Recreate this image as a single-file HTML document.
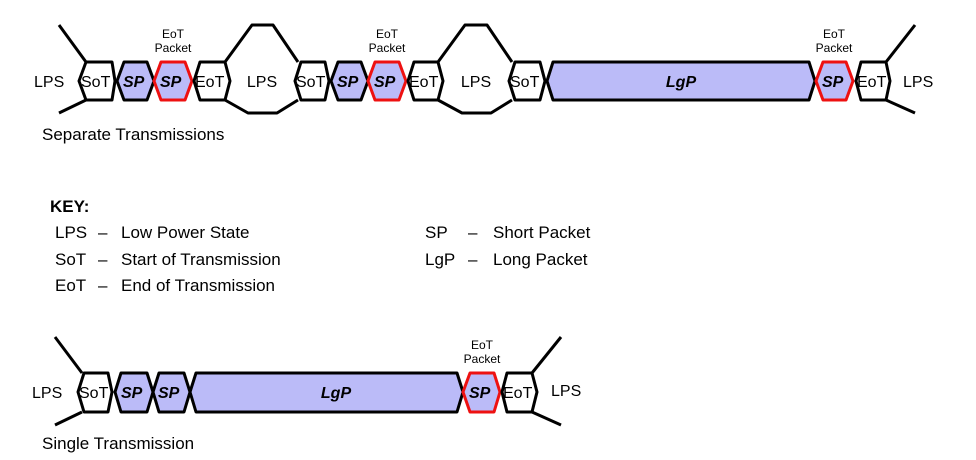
<!DOCTYPE html>
<html><head><meta charset="utf-8"><style>
html,body{margin:0;padding:0;background:#fff;}
svg{display:block;}
text{font-family:"Liberation Sans",Arial,sans-serif;}
</style></head><body>
<svg width="976" height="460" viewBox="0 0 976 460" xmlns="http://www.w3.org/2000/svg">
<defs>
<style>
.h{fill:#fff;stroke:#000;stroke-width:3;stroke-linejoin:round}
.b{fill:#bbbbf8;stroke:#000;stroke-width:3;stroke-linejoin:round}
.r{fill:#bbbbf8;stroke:#ee1111;stroke-width:3;stroke-linejoin:round}
.l{fill:none;stroke:#000;stroke-width:3;stroke-linejoin:round}
.t{font-size:16px;fill:#000}
.k{font-size:17px;fill:#000}
.sp{font-size:16px;font-weight:bold;font-style:italic;fill:#000}
.s{font-size:12px;fill:#000}
</style>
</defs>
<polyline class="l" points="59,25 86,62"/>
<polyline class="l" points="86,100 59,113"/>
<text class="t" x="34" y="87">LPS</text>
<polygon class="h" points="79,81 86,62 112,62 115,81 112,100 86,100"/>
<text class="t" x="81" y="87">SoT</text>
<polygon class="b" points="117,81 124,62 147,62 154,81 147,100 124,100"/>
<text class="sp" x="123" y="87">SP</text>
<polygon class="r" points="154,81 161,62 185,62 192,81 185,100 161,100"/>
<text class="sp" x="160" y="87">SP</text>
<text class="s" x="173" y="38" text-anchor="middle">EoT</text>
<text class="s" x="173" y="52" text-anchor="middle">Packet</text>
<polygon class="h" points="194,81 200,62 225,62 230,81 225,100 200,100"/>
<text class="t" x="195" y="87">EoT</text>
<polyline class="l" points="225,62 252,25 273,25 298,62"/>
<polyline class="l" points="225,100 248,113 277,113 298,100"/>
<text class="t" x="262" y="87" text-anchor="middle">LPS</text>
<polygon class="h" points="295,81 301,62 325,62 329,81 325,100 301,100"/>
<text class="t" x="296" y="87">SoT</text>
<polygon class="b" points="331,81 338,62 361,62 368,81 361,100 338,100"/>
<text class="sp" x="337" y="87">SP</text>
<polygon class="r" points="368,81 375,62 399,62 406,81 399,100 375,100"/>
<text class="sp" x="374" y="87">SP</text>
<text class="s" x="387" y="38" text-anchor="middle">EoT</text>
<text class="s" x="387" y="52" text-anchor="middle">Packet</text>
<polygon class="h" points="408,81 414,62 438,62 443,81 438,100 414,100"/>
<text class="t" x="409" y="87">EoT</text>
<polyline class="l" points="438,62 465,25 487,25 512,62"/>
<polyline class="l" points="438,100 462,113 491,113 512,100"/>
<text class="t" x="476" y="87" text-anchor="middle">LPS</text>
<polygon class="h" points="509,81 515,62 540,62 545,81 540,100 515,100"/>
<text class="t" x="510" y="87">SoT</text>
<polygon class="b" points="547,81 553,62 809,62 815,81 809,100 553,100"/>
<text class="sp" x="681" y="87" text-anchor="middle">LgP</text>
<polygon class="r" points="816,81 823,62 846,62 853,81 846,100 823,100"/>
<text class="sp" x="822" y="87">SP</text>
<text class="s" x="834" y="38" text-anchor="middle">EoT</text>
<text class="s" x="834" y="52" text-anchor="middle">Packet</text>
<polygon class="h" points="856,81 861,62 886,62 890,81 886,100 861,100"/>
<text class="t" x="857" y="87">EoT</text>
<polyline class="l" points="886,62 915,25"/>
<polyline class="l" points="886,100 915,113"/>
<text class="t" x="903" y="87">LPS</text>
<text class="k" x="42" y="140">Separate Transmissions</text>

<text class="k" x="50" y="212" font-weight="bold">KEY:</text>
<text class="k" x="55" y="238">LPS</text><text class="k" x="98" y="238">–</text><text class="k" x="121" y="238">Low Power State</text>
<text class="k" x="55" y="265">SoT</text><text class="k" x="98" y="265">–</text><text class="k" x="121" y="265">Start of Transmission</text>
<text class="k" x="55" y="291">EoT</text><text class="k" x="98" y="291">–</text><text class="k" x="121" y="291">End of Transmission</text>
<text class="k" x="425" y="238">SP</text><text class="k" x="468" y="238">–</text><text class="k" x="493" y="238">Short Packet</text>
<text class="k" x="425" y="265">LgP</text><text class="k" x="468" y="265">–</text><text class="k" x="493" y="265">Long Packet</text>

<polyline class="l" points="55,337 82,373"/>
<polyline class="l" points="82,412 55,425"/>
<text class="t" x="32" y="398">LPS</text>
<polygon class="h" points="78,392 84,373 108,373 112,392 108,412 84,412"/>
<text class="t" x="79" y="398">SoT</text>
<polygon class="b" points="115,392 121,373 147,373 153,392 147,412 121,412"/>
<text class="sp" x="121" y="398">SP</text>
<polygon class="b" points="153,392 159,373 184,373 190,392 184,412 159,412"/>
<text class="sp" x="158" y="398">SP</text>
<polygon class="b" points="190,392 196,373 457,373 463,392 457,412 196,412"/>
<text class="sp" x="336" y="398" text-anchor="middle">LgP</text>
<polygon class="r" points="463,392 470,373 494,373 500,392 494,412 470,412"/>
<text class="sp" x="469" y="398">SP</text>
<text class="s" x="482" y="349" text-anchor="middle">EoT</text>
<text class="s" x="482" y="363" text-anchor="middle">Packet</text>
<polygon class="h" points="502,392 507,373 532,373 537,392 532,412 507,412"/>
<text class="t" x="503" y="398">EoT</text>
<polyline class="l" points="532,373 561,337"/>
<polyline class="l" points="532,412 561,425"/>
<text class="t" x="551" y="396">LPS</text>
<text class="k" x="42" y="449">Single Transmission</text>
</svg>
</body></html>
